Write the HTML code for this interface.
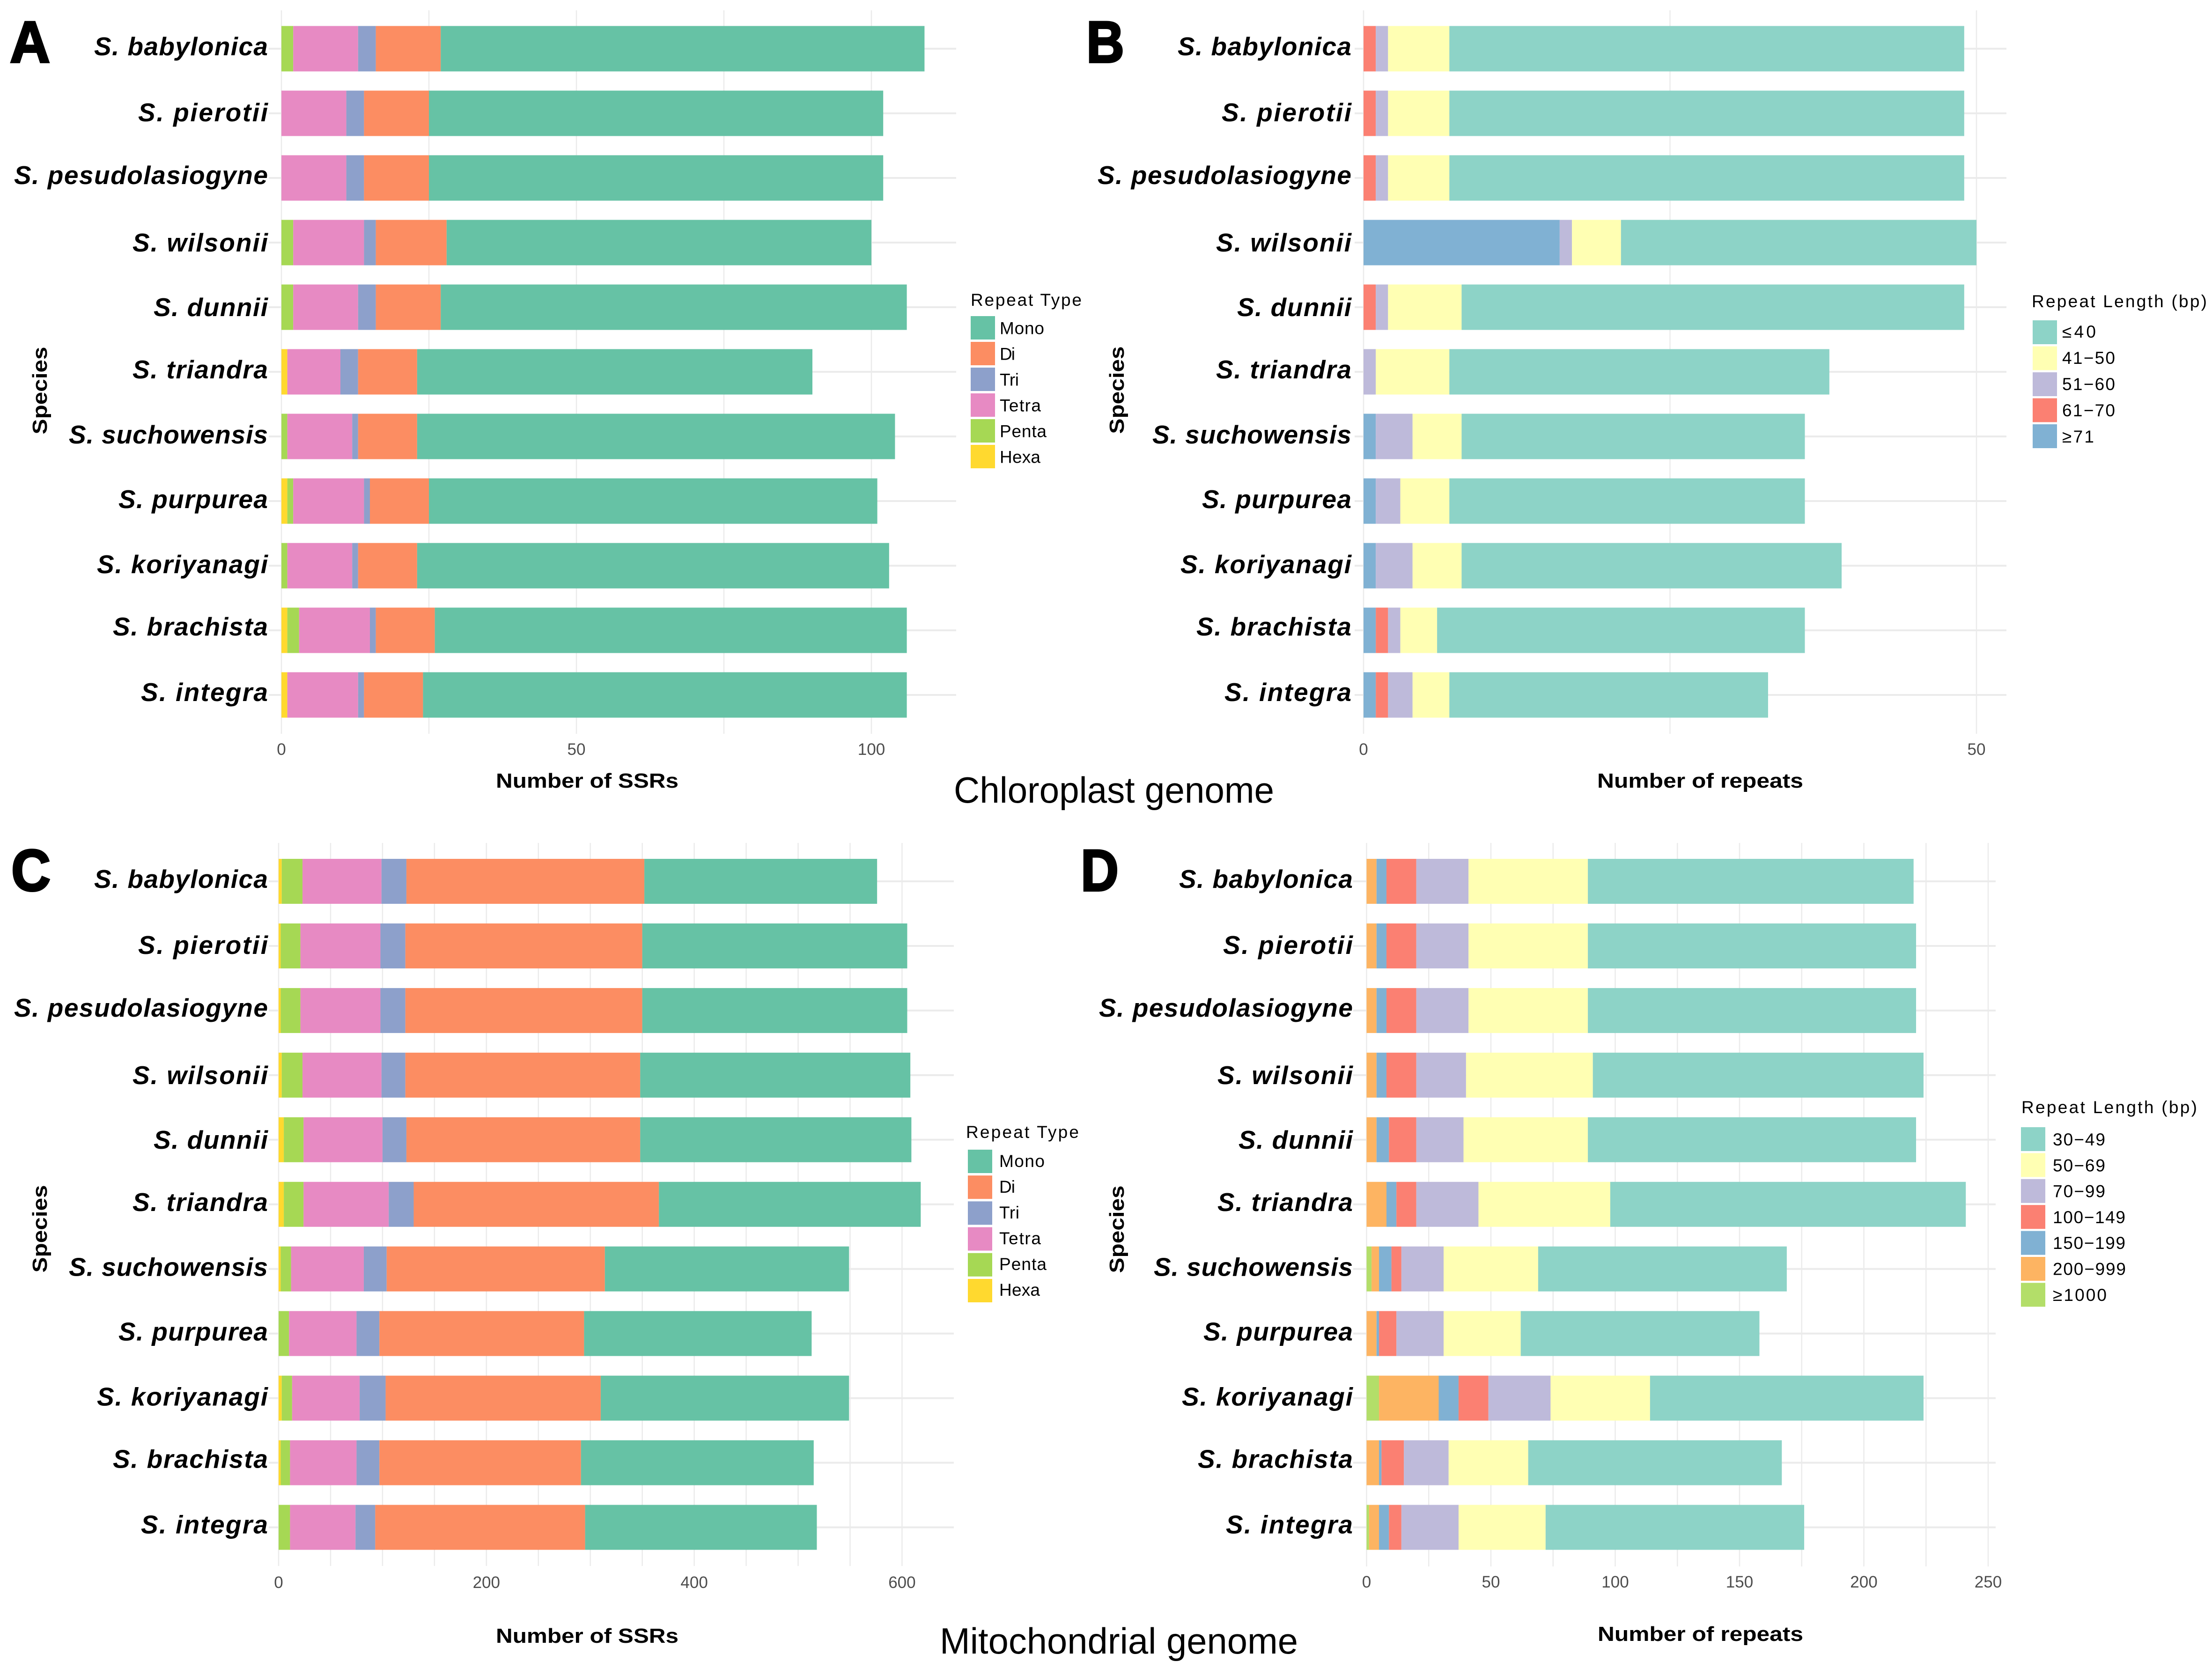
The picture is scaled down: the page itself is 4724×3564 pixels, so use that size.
<!DOCTYPE html>
<html lang="en">
<head>
<meta charset="utf-8">
<title>SSR and repeat counts in Salix chloroplast and mitochondrial genomes</title>
<style>
html,body{margin:0;padding:0;background:#fff;}
svg{display:block;}
text{font-family:"Liberation Sans",sans-serif;}
.big-title{font-size:78px;fill:#000;}
.letter{font-size:125px;font-weight:bold;fill:#000;stroke:#000;stroke-width:4px;stroke-linejoin:miter;}
.axis-title{font-size:44px;font-weight:bold;fill:#000;}
.legend-title{font-size:37px;fill:#000;}
</style>
</head>
<body>
<svg id="figure" xmlns="http://www.w3.org/2000/svg" width="4724" height="3564" viewBox="0 0 4724 3564">
  <rect x="0" y="0" width="4724" height="3564" fill="#ffffff"/>
  <g id="panels"></g>

  <text class="letter" x="21" y="133" textLength="86" lengthAdjust="spacingAndGlyphs">A</text>
  <text class="letter" x="2320" y="133" textLength="81" lengthAdjust="spacingAndGlyphs">B</text>
  <text class="letter" x="24" y="1902" textLength="84" lengthAdjust="spacingAndGlyphs">C</text>
  <text class="letter" x="2308" y="1902" textLength="81" lengthAdjust="spacingAndGlyphs">D</text>

  <text class="big-title" x="2037" y="1714" textLength="684" lengthAdjust="spacingAndGlyphs">Chloroplast genome</text>
  <text class="big-title" x="2007" y="3531" textLength="765" lengthAdjust="spacingAndGlyphs">Mitochondrial genome</text>

  <text class="axis-title" x="1059" y="1682" textLength="390" lengthAdjust="spacingAndGlyphs">Number of SSRs</text>
  <text class="axis-title" x="3411" y="1682" textLength="440" lengthAdjust="spacingAndGlyphs">Number of repeats</text>
  <text class="axis-title" x="1059" y="3508" textLength="390" lengthAdjust="spacingAndGlyphs">Number of SSRs</text>
  <text class="axis-title" x="3412" y="3504" textLength="439" lengthAdjust="spacingAndGlyphs">Number of repeats</text>

  <text class="axis-title" text-anchor="middle" transform="translate(100 834) rotate(-90)" textLength="187" lengthAdjust="spacingAndGlyphs">Species</text>
  <text class="axis-title" text-anchor="middle" transform="translate(2400 833) rotate(-90)" textLength="187" lengthAdjust="spacingAndGlyphs">Species</text>
  <text class="axis-title" text-anchor="middle" transform="translate(100 2624) rotate(-90)" textLength="187" lengthAdjust="spacingAndGlyphs">Species</text>
  <text class="axis-title" text-anchor="middle" transform="translate(2400 2625) rotate(-90)" textLength="187" lengthAdjust="spacingAndGlyphs">Species</text>

  <text class="legend-title" x="2073" y="653" textLength="237" lengthAdjust="spacing">Repeat Type</text>
  <text class="legend-title" x="4339" y="656" textLength="374" lengthAdjust="spacing">Repeat Length (bp)</text>
  <text class="legend-title" x="2063" y="2430" textLength="241" lengthAdjust="spacing">Repeat Type</text>
  <text class="legend-title" x="4317" y="2377" textLength="375" lengthAdjust="spacing">Repeat Length (bp)</text>
</svg>

<script>
// ---------- shared categories ----------
const species = ["S. babylonica","S. pierotii","S. pesudolasiogyne","S. wilsonii","S. dunnii","S. triandra","S. suchowensis","S. purpurea","S. koriyanagi","S. brachista","S. integra"];

// ---------- panel A: chloroplast SSRs ----------
const aHexa  = [0,0,0,0,0,1,0,1,0,1,1];
const aPenta = [2,0,0,2,2,0,1,1,1,2,0];
const aTetra = [11,11,11,12,11,9,11,12,11,12,12];
const aTri   = [3,3,3,2,3,3,1,1,1,1,1];
const aDi    = [11,11,11,12,11,10,10,10,10,10,10];
const aMono  = [82,77,77,72,79,67,81,76,80,80,82];
const aTickLabels = [0,50,100];
const aGridValues = [0,25,50,75,100];

// ---------- panel B: chloroplast repeats ----------
const bGe71 = [0,0,0,16,0,0,1,1,1,1,1];
const b6170 = [1,1,1,0,1,0,0,0,0,1,1];
const b5160 = [1,1,1,1,1,1,3,2,3,1,2];
const b4150 = [5,5,5,4,6,6,4,4,4,3,3];
const bLe40 = [42,42,42,29,41,31,28,29,31,30,26];
const bTickLabels = [0,50];
const bGridValues = [0,25,50];

// ---------- panel C: mitochondrial SSRs ----------
const cHexa  = [3,2,2,3,5,5,2,0,3,2,0];
const cPenta = [20,19,19,20,19,19,10,10,10,9,11];
const cTetra = [76,77,77,76,76,82,70,65,65,64,63];
const cTri   = [24,24,24,23,23,24,22,22,25,22,19];
const cDi    = [229,228,228,226,225,236,210,197,207,194,202];
const cMono  = [224,255,255,260,261,252,235,219,239,224,223];
const cTickLabels = [0,200,400,600];
const cGridValues = [0,100,200,300,400,500,600,50,150,250,350,450,550];

// ---------- panel D: mitochondrial repeats ----------
const dGe1000 = [0,0,0,0,0,0,2,0,5,0,1];
const d200    = [4,4,4,4,4,8,3,4,24,5,4];
const d150    = [4,4,4,4,5,4,5,1,8,1,4];
const d100    = [12,12,12,12,11,8,4,7,12,9,5];
const d70     = [21,21,21,20,19,25,17,19,25,18,23];
const d50     = [48,48,48,51,50,53,38,31,40,32,35];
const d30     = [131,132,132,133,132,143,100,96,110,102,104];
const dTickLabels = [0,50,100,150,200,250];
const dGridValues = [0,25,50,75,100,125,150,175,200,225,250];

// ---------- legend labels ----------
const typeLabels = ["Mono","Di","Tri","Tetra","Penta","Hexa"];
const bLengthLabels = ["\u226440","41\u221250","51\u221260","61\u221270","\u226571"];
const dLengthLabels = ["30\u221249","50\u221269","70\u221299","100\u2212149","150\u2212199","200\u2212999","\u22651000"];

// ---------- layout (not data) ----------
const SVGNS = "http://www.w3.org/2000/svg";
const root = document.getElementById("panels");
const labelWidths = [371,277,542,289,244,289,425,319,365,331,271];
const labelNudges = [14,17,13,19,19,14,15,15,16,11,13];
const typeColors = {Hexa:"#ffd92f",Penta:"#a6d854",Tetra:"#e78ac3",Tri:"#8da0cb",Di:"#fc8d62",Mono:"#66c2a5"};
const lenColors = ["#8dd3c7","#ffffb3","#bebada","#fb8072","#80b1d3","#fdb462","#b3de69"];
const GRID = "#ebebeb";

function make(parent, tag, attrs, name, content) {
  const el = document.createElementNS(SVGNS, tag);
  Object.keys(attrs).forEach(function (k) { el.setAttribute(k, attrs[k]); });
  
  
  if (content !== undefined) el.textContent = content;
  parent.appendChild(el);
  return el;
}

function slug(s) { return s.toLowerCase().replace(/[^a-z0-9]+/g, "-").replace(/^-|-$/g, ""); }

function drawPanel(p) {
  const g = make(root, "g", {}, "panel-" + p.id);
  const xScale = function (v) { return p.x0 + v * p.perUnit; };
  const yScale = function (i) { return p.y0 + i * p.rowStep; };

  p.grid.forEach(function (v) {
    make(g, "line", {x1: xScale(v), x2: xScale(v), y1: p.top, y2: p.bottom, stroke: GRID, "stroke-width": 2.5}, "vertical-gridline-" + v);
  });
  species.forEach(function (s, i) {
    make(g, "line", {x1: p.left, x2: p.right, y1: yScale(i), y2: yScale(i), stroke: GRID, "stroke-width": 4}, "horizontal-gridline-" + slug(s));
  });

  species.forEach(function (s, i) {
    let running = 0;
    p.series.forEach(function (se) {
      const v = se.values[i];
      if (v > 0) {
        make(g, "rect", {x: xScale(running), y: yScale(i) - p.barH / 2, width: v * p.perUnit, height: p.barH, fill: se.color}, "bar-" + p.id + "-" + slug(se.label) + "-" + slug(s));
      }
      running += v;
    });
    make(g, "text", {
      x: p.labelRight, y: yScale(i) + labelNudges[i], "text-anchor": "end",
      "font-size": 55, "font-weight": "bold", "font-style": "italic", fill: "#000",
      textLength: labelWidths[i], lengthAdjust: "spacing"
    }, "species-label-" + slug(s), s);
  });

  p.ticks.forEach(function (t) {
    make(g, "text", {x: xScale(t), y: p.tickY, "text-anchor": "middle", "font-size": 35, fill: "#4d4d4d"}, "x-tick-label-" + t, String(t));
  });

  p.legend.forEach(function (en, i) {
    make(g, "rect", {x: p.lgX, y: p.lgTop + i * p.lgStep, width: 52, height: p.lgH, fill: en.color}, "legend-swatch-" + slug(en.label));
    make(g, "text", {
      x: p.lgTextX, y: p.lgBase + i * p.lgBaseStep, "font-size": 37, fill: "#000",
      textLength: en.w, lengthAdjust: "spacing"
    }, "legend-label-" + slug(en.label), en.label);
  });
}

// panels
drawPanel({
  id: "a", x0: 601, perUnit: 12.6, y0: 104, rowStep: 138, barH: 97, top: 22, bottom: 1567, left: 574, right: 2042,
  labelRight: 572, tickY: 1612, ticks: aTickLabels, grid: aGridValues,
  series: [
    {label: "Hexa", values: aHexa, color: typeColors.Hexa},
    {label: "Penta", values: aPenta, color: typeColors.Penta},
    {label: "Tetra", values: aTetra, color: typeColors.Tetra},
    {label: "Tri", values: aTri, color: typeColors.Tri},
    {label: "Di", values: aDi, color: typeColors.Di},
    {label: "Mono", values: aMono, color: typeColors.Mono}
  ],
  lgX: 2073, lgTop: 675, lgStep: 55, lgH: 50, lgTextX: 2135, lgBase: 713.5, lgBaseStep: 55,
  legend: [
    {label: typeLabels[0], color: typeColors.Mono, w: 95},
    {label: typeLabels[1], color: typeColors.Di, w: 33},
    {label: typeLabels[2], color: typeColors.Tri, w: 41},
    {label: typeLabels[3], color: typeColors.Tetra, w: 88},
    {label: typeLabels[4], color: typeColors.Penta, w: 100},
    {label: typeLabels[5], color: typeColors.Hexa, w: 87}
  ]
});

drawPanel({
  id: "b", x0: 2912, perUnit: 26.18, y0: 104, rowStep: 138, barH: 97, top: 22, bottom: 1567, left: 2893, right: 4285,
  labelRight: 2886, tickY: 1612, ticks: bTickLabels, grid: bGridValues,
  series: [
    {label: "ge71", values: bGe71, color: lenColors[4]},
    {label: "61-70", values: b6170, color: lenColors[3]},
    {label: "51-60", values: b5160, color: lenColors[2]},
    {label: "41-50", values: b4150, color: lenColors[1]},
    {label: "le40", values: bLe40, color: lenColors[0]}
  ],
  lgX: 4341, lgTop: 684, lgStep: 55.5, lgH: 51, lgTextX: 4404, lgBase: 721, lgBaseStep: 56,
  legend: [
    {label: bLengthLabels[0], color: lenColors[0], w: 72},
    {label: bLengthLabels[1], color: lenColors[1], w: 113},
    {label: bLengthLabels[2], color: lenColors[2], w: 113},
    {label: bLengthLabels[3], color: lenColors[3], w: 113},
    {label: bLengthLabels[4], color: lenColors[4], w: 68}
  ]
});

drawPanel({
  id: "c", x0: 595, perUnit: 2.219, y0: 1882, rowStep: 137.95, barH: 96, top: 1800, bottom: 3344, left: 574, right: 2037,
  labelRight: 572, tickY: 3391, ticks: cTickLabels, grid: cGridValues,
  series: [
    {label: "Hexa", values: cHexa, color: typeColors.Hexa},
    {label: "Penta", values: cPenta, color: typeColors.Penta},
    {label: "Tetra", values: cTetra, color: typeColors.Tetra},
    {label: "Tri", values: cTri, color: typeColors.Tri},
    {label: "Di", values: cDi, color: typeColors.Di},
    {label: "Mono", values: cMono, color: typeColors.Mono}
  ],
  lgX: 2067, lgTop: 2455, lgStep: 55.2, lgH: 50, lgTextX: 2134, lgBase: 2492, lgBaseStep: 55,
  legend: [
    {label: typeLabels[0], color: typeColors.Mono, w: 97},
    {label: typeLabels[1], color: typeColors.Di, w: 34},
    {label: typeLabels[2], color: typeColors.Tri, w: 43},
    {label: typeLabels[3], color: typeColors.Tetra, w: 89},
    {label: typeLabels[4], color: typeColors.Penta, w: 101},
    {label: typeLabels[5], color: typeColors.Hexa, w: 87}
  ]
});

drawPanel({
  id: "d", x0: 2918.5, perUnit: 5.31, y0: 1882, rowStep: 137.95, barH: 96, top: 1800, bottom: 3345, left: 2890, right: 4262,
  labelRight: 2889, tickY: 3390, ticks: dTickLabels, grid: dGridValues,
  series: [
    {label: "ge1000", values: dGe1000, color: lenColors[6]},
    {label: "200-999", values: d200, color: lenColors[5]},
    {label: "150-199", values: d150, color: lenColors[4]},
    {label: "100-149", values: d100, color: lenColors[3]},
    {label: "70-99", values: d70, color: lenColors[2]},
    {label: "50-69", values: d50, color: lenColors[1]},
    {label: "30-49", values: d30, color: lenColors[0]}
  ],
  lgX: 4316, lgTop: 2407, lgStep: 55.4, lgH: 51, lgTextX: 4384, lgBase: 2446, lgBaseStep: 55.3,
  legend: [
    {label: dLengthLabels[0], color: lenColors[0], w: 112},
    {label: dLengthLabels[1], color: lenColors[1], w: 112},
    {label: dLengthLabels[2], color: lenColors[2], w: 112},
    {label: dLengthLabels[3], color: lenColors[3], w: 155},
    {label: dLengthLabels[4], color: lenColors[4], w: 155},
    {label: dLengthLabels[5], color: lenColors[5], w: 156},
    {label: dLengthLabels[6], color: lenColors[6], w: 115}
  ]
});
</script>
</body>
</html>
